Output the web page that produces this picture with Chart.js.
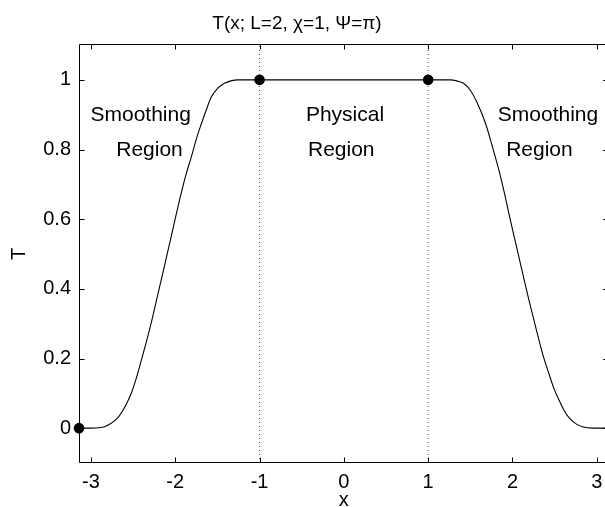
<!DOCTYPE html>
<html>
<head>
<meta charset="utf-8">
<script src="https://cdn.jsdelivr.net/npm/chart.js@4/dist/chart.umd.min.js"></script>
<style>
html, body { margin: 0; padding: 0; background: #fff; overflow: hidden; }
canvas { display: block; }
</style>
</head>
<body>
<canvas id="chart" width="614" height="507"></canvas>
<script>
// T(x)
const curveX = [-3.1416, -3.0, -2.9, -2.84, -2.76, -2.68, -2.60, -2.52, -2.46, -2.40, -2.34, -2.285, -2.22,
    -2.166, -2.10, -2.048, -1.99, -1.93, -1.87, -1.81, -1.75, -1.69, -1.63, -1.574, -1.50, -1.417, -1.34, -1.26,
    -1.0, 0, 1.0, 1.26, 1.34, 1.42, 1.50, 1.58, 1.682, 1.76, 1.84, 1.90, 1.958, 2.02, 2.076, 2.135, 2.195,
    2.255, 2.313, 2.37, 2.43, 2.49, 2.55, 2.61, 2.67, 2.75, 2.83, 2.95, 3.1416];
const curveY = [0, 0, 0.001, 0.004, 0.014, 0.03, 0.06, 0.101, 0.145, 0.197, 0.25, 0.302, 0.37,
    0.426, 0.495, 0.55, 0.612, 0.674, 0.73, 0.778, 0.83, 0.874, 0.915, 0.95, 0.975, 0.99, 0.997, 1.0,
    1, 1, 1, 1.0, 0.997, 0.99, 0.97, 0.935, 0.874, 0.81, 0.74, 0.68, 0.616, 0.55, 0.492, 0.43, 0.368,
    0.31, 0.254, 0.203, 0.158, 0.115, 0.082, 0.052, 0.03, 0.013, 0.004, 0, 0];

const dotX = [-Math.PI, -1, 1];
const dotY = [0, 1, 1];
const boundaryX = [-1, 1];

const xTicks = [-3, -2, -1, 0, 1, 2, 3];
const yTicks = [0, 0.2, 0.4, 0.6, 0.8, 1];

const regionText = ['Smoothing', 'Region', 'Physical', 'Region', 'Smoothing', 'Region'];
const regionX = [-2.41, -2.305, 0.014, -0.031, 2.422, 2.32];
const regionY = [0.881, 0.782, 0.881, 0.782, 0.881, 0.782];

const FONT = "'Liberation Sans', Arial, Helvetica, sans-serif";

const boundaryLines = boundaryX.map(bx => ({
    data: [{ x: bx, y: -0.1 }, { x: bx, y: 1.1 }],
    showLine: true,
    borderColor: '#555',
    borderWidth: 1,
    borderDash: [1, 3],
    pointRadius: 0
}));

// frame, inward ticks and all free text
const decorations = {
    id: 'decorations',
    afterDraw(chart) {
        const ctx = chart.ctx;
        const a = chart.chartArea;
        const xs = chart.scales.x, ys = chart.scales.y;
        const L = a.left + 0.5, R = a.right - 0.5, T = a.top - 0.5, B = a.bottom - 0.5;
        const tick = 5;
        ctx.save();
        ctx.strokeStyle = '#000';
        ctx.lineWidth = 1;
        ctx.beginPath();
        ctx.rect(L, T, R - L, B - T);
        xTicks.forEach(v => {
            const px = Math.round(xs.getPixelForValue(v)) + 0.5;
            ctx.moveTo(px, B); ctx.lineTo(px, B - tick);
            ctx.moveTo(px, T); ctx.lineTo(px, T + tick);
        });
        yTicks.forEach(v => {
            const py = Math.round(ys.getPixelForValue(v)) + 0.5;
            ctx.moveTo(L, py); ctx.lineTo(L + tick, py);
            ctx.moveTo(R, py); ctx.lineTo(R - tick, py);
        });
        ctx.stroke();

        ctx.fillStyle = '#000';
        ctx.textAlign = 'center';
        ctx.textBaseline = 'alphabetic';
        ctx.font = '21px ' + FONT;
        regionText.forEach((t, i) => {
            ctx.fillText(t, xs.getPixelForValue(regionX[i]), ys.getPixelForValue(regionY[i]));
        });

        ctx.font = '19px ' + FONT;
        ctx.fillText('T(x; L=2, \u03C7=1, \u03A8=\u03C0)', 297, 28.5);

        ctx.font = '20px ' + FONT;
        ctx.fillText('x', (a.left + a.right) / 2, 506);

        ctx.translate(24.5, (a.top + a.bottom) / 2);
        ctx.rotate(-Math.PI / 2);
        ctx.fillText('T', 0, 0);
        ctx.restore();
    }
};

const ctx = document.getElementById('chart').getContext('2d');
const chart = new Chart(ctx, {
    type: 'scatter',
    data: {
        datasets: [{
            data: curveX.map((x, i) => ({ x: x, y: curveY[i] })),
            showLine: true,
            borderColor: '#000',
            borderWidth: 1.1,
            pointRadius: 0,
            cubicInterpolationMode: 'monotone'
        }, {
            data: dotX.map((x, i) => ({ x: x, y: dotY[i] })),
            pointRadius: 5.3,
            pointBackgroundColor: '#000',
            pointBorderColor: '#000',
            pointBorderWidth: 0,
            clip: false
        }, ...boundaryLines]
    },
    options: {
        responsive: false,
        animation: false,
        layout: { padding: { top: 45, right: 4, left: 0, bottom: 0 } },
        plugins: {
            legend: { display: false },
            tooltip: { enabled: false }
        },
        scales: {
            x: {
                type: 'linear',
                min: -Math.PI,
                max: Math.PI,
                grid: { display: false, drawTicks: false },
                border: { display: false },
                afterBuildTicks: s => { s.ticks = xTicks.map(v => ({ value: v })); },
                afterFit: s => { s.height = 44; },
                ticks: {
                    font: { family: FONT, size: 20 },
                    color: '#000',
                    padding: 7,
                    maxRotation: 0,
                    autoSkip: false,
                    callback: v => String(v)
                }
            },
            y: {
                min: -0.1,
                max: 1.1,
                grid: { display: false, drawTicks: false },
                border: { display: false },
                afterBuildTicks: s => { s.ticks = yTicks.map(v => ({ value: v })); },
                afterFit: s => { s.width = 79; },
                ticks: {
                    font: { family: FONT, size: 20 },
                    color: '#000',
                    padding: 8,
                    autoSkip: false,
                    callback: v => String(v)
                }
            }
        }
    },
    plugins: [decorations]
});
</script>
</body>
</html>
